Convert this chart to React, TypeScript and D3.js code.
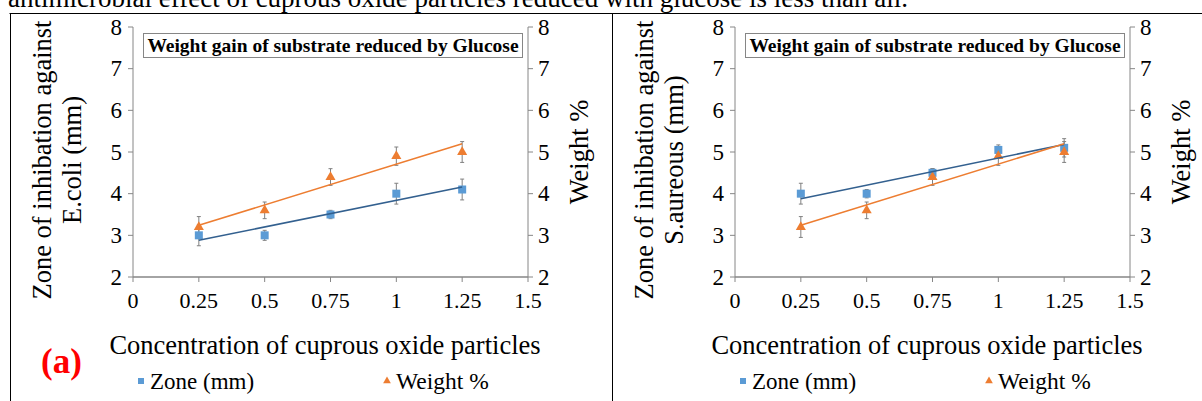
import React from 'react';
import * as d3 from 'd3';

const concentrations = [0.25, 0.5, 0.75, 1, 1.25];
const xTicks = [0, 0.25, 0.5, 0.75, 1, 1.25, 1.5];
const yTicks = [2, 3, 4, 5, 6, 7, 8];

const zoneEcoli = [3.0, 3.0, 3.5, 4.0, 4.1];
const zoneEcoliErr = [0.25, 0.12, 0.1, 0.25, 0.25];
const zoneSaureus = [4.0, 4.0, 4.5, 5.05, 5.1];
const zoneSaureusErr = [0.25, 0.1, 0.1, 0.12, 0.22];
const weight = [3.2, 3.6, 4.4, 4.9, 5.0];
const weightErr = [0.25, 0.2, 0.2, 0.22, 0.25];

const FONT = 'Liberation Serif';
const BLUE = '#5B9BD5';
const BLUE_LINE = '#33608F';
const ORANGE = '#ED7D31';
const AXIS = '#868686';
const ERR = '#808080';

// least-squares trend line, like the spreadsheet's linear trendline
function fit(xs: number[], ys: number[]) {
  const mx = d3.mean(xs)!;
  const my = d3.mean(ys)!;
  const sxy = d3.sum(xs, (x, i) => (x - mx) * (ys[i] - my));
  const sxx = d3.sum(xs, x => (x - mx) * (x - mx));
  const b = sxy / sxx;
  return (x: number) => my + b * (x - mx);
}

const T: React.FC<React.SVGProps<SVGTextElement>> = props => (
  <text fontFamily={FONT} fill="#000" {...props} />
);

interface PanelProps {
  dx: number;
  organism: string;
  zone: number[];
  zoneErr: number[];
  label?: string;
}

const Panel: React.FC<PanelProps> = ({ dx, organism, zone, zoneErr, label }) => {
  const x = d3.scaleLinear().domain([0, 1.5]).range([133, 528]);
  const y = d3.scaleLinear().domain([2, 8]).range([277, 27]);
  const zoneFit = fit(concentrations, zone);
  const weightFit = fit(concentrations, weight);
  const ends = [concentrations[0], concentrations[concentrations.length - 1]];
  const tri = d3.symbol().type(d3.symbolTriangle).size(44)();
  const triLegend = d3.symbol().type(d3.symbolTriangle).size(26)();

  const errBars = (vals: number[], errs: number[]) =>
    concentrations.map((c, i) => (
      <g key={i} stroke={ERR} strokeWidth={1}>
        <line x1={x(c)} x2={x(c)} y1={y(vals[i] + errs[i])} y2={y(vals[i] - errs[i])} />
        <line x1={x(c) - 2} x2={x(c) + 2} y1={y(vals[i] + errs[i])} y2={y(vals[i] + errs[i])} />
        <line x1={x(c) - 2} x2={x(c) + 2} y1={y(vals[i] - errs[i])} y2={y(vals[i] - errs[i])} />
      </g>
    ));

  const [x0, x1] = x.range();
  const [yb, yt] = y.range();

  return (
    <g transform={`translate(${dx},0)`}>
      {/* axes */}
      <line x1={x0} x2={x0} y1={yb} y2={yt} stroke={AXIS} />
      <line x1={x1} x2={x1} y1={yb} y2={yt} stroke={AXIS} />
      <line x1={x0} x2={x1} y1={yb} y2={yb} stroke={AXIS} strokeWidth={1.5} />
      {yTicks.map(t => (
        <g key={t}>
          <line x1={x0 - 5} x2={x0} y1={y(t)} y2={y(t)} stroke={AXIS} />
          <line x1={x1} x2={x1 + 5} y1={y(t)} y2={y(t)} stroke={AXIS} />
          <T x={x0 - 11} y={y(t)} dy="0.34em" textAnchor="end" fontSize={23}>{t}</T>
          <T x={x1 + 10} y={y(t)} dy="0.34em" textAnchor="start" fontSize={23}>{t}</T>
        </g>
      ))}
      {xTicks.map(t => (
        <g key={t}>
          <line x1={x(t)} x2={x(t)} y1={yb} y2={yb + 5} stroke={AXIS} />
          <T x={x(t)} y={yb + 31} textAnchor="middle" fontSize={22}>{t}</T>
        </g>
      ))}

      {/* title box */}
      <rect x={143.5} y={33.5} width={379} height={24} fill="#fff" stroke={AXIS} />
      <T x={333} y={51.5} textAnchor="middle" fontSize={19.5} fontWeight="bold">
        Weight gain of substrate reduced by Glucose
      </T>

      {/* axis titles */}
      <T transform="translate(51,160) rotate(-90)" textAnchor="middle" fontSize={26.5}>
        Zone of inhibation against
      </T>
      <T transform="translate(81,160) rotate(-90)" textAnchor="middle" fontSize={26.5}>
        {organism} (mm)
      </T>
      <T transform="translate(588,152) rotate(-90)" textAnchor="middle" fontSize={26.5}>
        Weight %
      </T>
      <T x={325} y={354} textAnchor="middle" fontSize={26.5}>
        Concentration of cuprous oxide particles
      </T>

      {/* error bars */}
      {errBars(zone, zoneErr)}
      {errBars(weight, weightErr)}

      {/* markers */}
      {concentrations.map((c, i) => (
        <rect key={'z' + i} x={x(c) - 4} y={y(zone[i]) - 4} width={8} height={8} fill={BLUE} />
      ))}
      {concentrations.map((c, i) => (
        <path key={'w' + i} d={tri!} transform={`translate(${x(c)},${y(weight[i])})`} fill={ORANGE} />
      ))}

      {/* trend lines */}
      <line x1={x(ends[0])} x2={x(ends[1])} y1={y(zoneFit(ends[0]))} y2={y(zoneFit(ends[1]))}
        stroke={BLUE_LINE} strokeWidth={1.6} />
      <line x1={x(ends[0])} x2={x(ends[1])} y1={y(weightFit(ends[0]))} y2={y(weightFit(ends[1]))}
        stroke={ORANGE} strokeWidth={1.6} />

      {/* legend */}
      <rect x={138} y={378} width={6} height={6} fill={BLUE} />
      <T x={150} y={389} fontSize={23}>Zone (mm)</T>
      <path d={triLegend!} transform="translate(387,381)" fill={ORANGE} />
      <T x={396} y={389} fontSize={23.5}>Weight %</T>

      {label && (
        <T x={41} y={373} fontSize={35} fontWeight="bold" fill="#FF0000">{label}</T>
      )}
    </g>
  );
};

const App: React.FC = () => {
  return (
    <svg width={1202} height={401} style={{ position: 'absolute', left: 0, top: 0, background: '#fff' }}>
      <rect width={1202} height={401} fill="#fff" />
      <T x={8} y={7} fontSize={27}>
        antimicrobial effect of cuprous oxide particles reduced with glucose is less than all.
      </T>
      <line x1={9.5} x2={1202} y1={13.5} y2={13.5} stroke="#000" />
      <line x1={10.5} x2={10.5} y1={13} y2={401} stroke="#000" />
      <line x1={612.5} x2={612.5} y1={13} y2={401} stroke="#000" />
      <Panel dx={0} organism="E.coli" zone={zoneEcoli} zoneErr={zoneEcoliErr} label="(a)" />
      <Panel dx={602} organism="S.aureous" zone={zoneSaureus} zoneErr={zoneSaureusErr} />
    </svg>
  );
};

export default App;
